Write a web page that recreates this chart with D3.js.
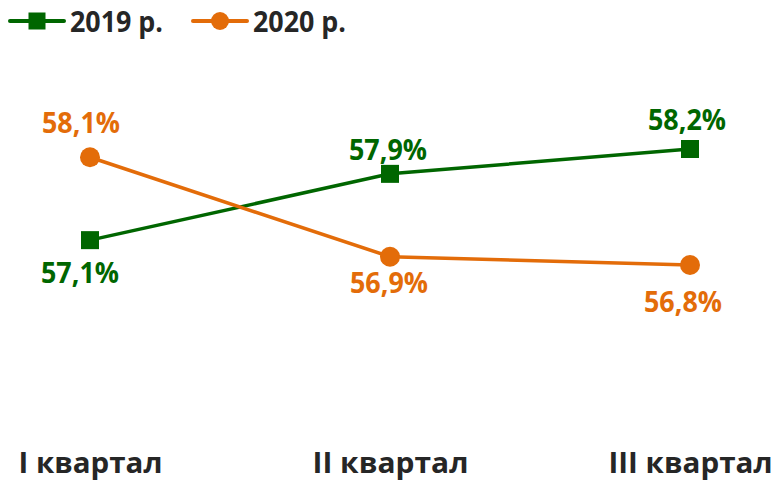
<!DOCTYPE html>
<html>
<head>
<meta charset="utf-8">
<script src="https://cdn.jsdelivr.net/npm/d3@7"></script>
<style>
  html, body { margin: 0; padding: 0; background: #fff; }
  svg { display: block; }
  text { font-family: "Open Sans", "Noto Sans", sans-serif; font-weight: 700; }
</style>
</head>
<body>
<svg id="chart" width="776" height="481"></svg>
<script>
// ---- data ----
const categories = ["I квартал", "II квартал", "III квартал"];
const seriesNames = ["2019 р.", "2020 р."];
const values2019 = [57.1, 57.9, 58.2];
const values2020 = [58.1, 56.9, 56.8];
const labels2019 = ["57,1%", "57,9%", "58,2%"];
const labels2020 = ["58,1%", "56,9%", "56,8%"];
const colors = ["#006600", "#E36C09"];

// label layout (offsets from the point, in px)
const labelDx2019 = [-10, -2, -3];
const labelDy2019 = [43, -14, -19];
const labelDx2020 = [-9, -1, -7];
const labelDy2020 = [-24, 36, 47];

const svg = d3.select("#chart");
const textColor = "#262626";

const x = d3.scalePoint().domain(categories).range([90, 690]);
const y = d3.scaleLinear().domain([56.8, 58.2]).range([265, 149]);

const series = [
  { name: seriesNames[0], values: values2019, labels: labels2019, dx: labelDx2019, dy: labelDy2019, color: colors[0], marker: "square" },
  { name: seriesNames[1], values: values2020, labels: labels2020, dx: labelDx2020, dy: labelDy2020, color: colors[1], marker: "circle" }
];

const line = d3.line().x((d, i) => x(categories[i])).y(d => y(d));

// category axis labels
const xAxis = d3.axisBottom(x).tickSize(0).tickPadding(0);
const gx = svg.append("g").attr("transform", "translate(0,452)").call(xAxis);
gx.select(".domain").remove();
gx.selectAll("text")
  .attr("dy", "0")
  .attr("y", 21)
  .attr("fill", textColor)
  .style("font-size", "29px")
  .style("font-family", "'Open Sans', sans-serif")
  .style("font-weight", "700")
  .each(function() {
    const t = d3.select(this).text();
    const w = { "I квартал": 144, "II квартал": 156, "III квартал": 164 }[t];
    d3.select(this).attr("textLength", w).attr("lengthAdjust", "spacingAndGlyphs");
  });

// lines and markers
series.forEach(s => {
  const g = svg.append("g");
  g.append("path")
    .datum(s.values)
    .attr("d", line)
    .attr("fill", "none")
    .attr("stroke", s.color)
    .attr("stroke-width", 3.5);
  if (s.marker === "square") {
    g.selectAll("rect").data(s.values).join("rect")
      .attr("x", (d, i) => x(categories[i]) - 9)
      .attr("y", d => y(d) - 9)
      .attr("width", 18).attr("height", 18)
      .attr("fill", s.color);
  } else {
    g.selectAll("circle").data(s.values).join("circle")
      .attr("cx", (d, i) => x(categories[i]))
      .attr("cy", d => y(d))
      .attr("r", 10)
      .attr("fill", s.color);
  }
  g.selectAll("text").data(s.values).join("text")
    .attr("x", (d, i) => x(categories[i]) + s.dx[i])
    .attr("y", (d, i) => y(d) + s.dy[i])
    .attr("text-anchor", "middle")
    .attr("fill", s.color)
    .style("font-size", "28px")
    .attr("textLength", 78)
    .attr("lengthAdjust", "spacingAndGlyphs")
    .text((d, i) => s.labels[i]);
});

// legend
const legendX = [10, 193];
const legend = svg.append("g");
series.forEach((s, i) => {
  const lg = legend.append("g").attr("transform", `translate(${legendX[i]},0)`);
  lg.append("line")
    .attr("x1", 0).attr("x2", 54).attr("y1", 21).attr("y2", 21)
    .attr("stroke", s.color).attr("stroke-width", 4).attr("stroke-linecap", "round");
  if (s.marker === "square") {
    lg.append("rect").attr("x", 27 - 8.5).attr("y", 21 - 8.5).attr("width", 17).attr("height", 17).attr("fill", s.color);
  } else {
    lg.append("circle").attr("cx", 27).attr("cy", 21).attr("r", 9).attr("fill", s.color);
  }
  lg.append("text")
    .attr("x", 60).attr("y", 32)
    .attr("fill", textColor)
    .style("font-size", "29px")
    .attr("textLength", 93)
    .attr("lengthAdjust", "spacingAndGlyphs")
    .text(s.name);
});
</script>
</body>
</html>
